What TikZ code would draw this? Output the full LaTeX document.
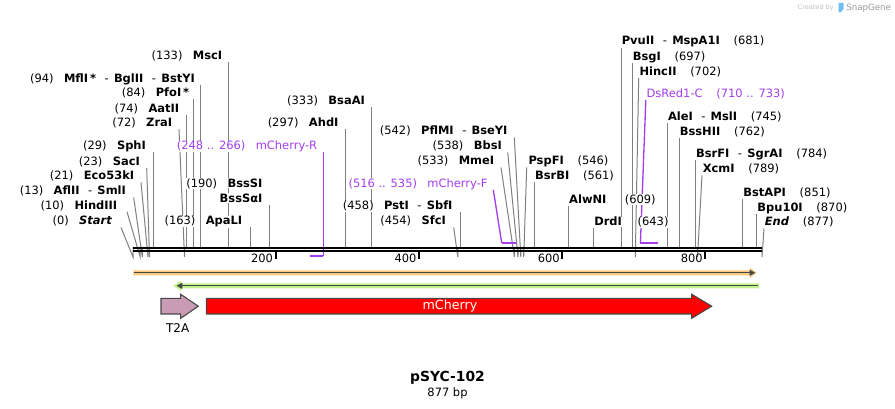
\documentclass[tikz,border=0pt]{standalone}
\usepackage{fontspec}
\setmainfont{DejaVu Sans}
\usepackage{tikz}
\usetikzlibrary{calc,backgrounds}

\definecolor{primcol}{RGB}{163,62,240}
\definecolor{cutgray}{RGB}{128,128,128}
\definecolor{orfill}{RGB}{249,201,128}
\definecolor{grfill}{RGB}{192,243,142}
\definecolor{featdark}{RGB}{70,70,70}
\definecolor{t2acol}{RGB}{201,155,181}
\definecolor{logoblue}{RGB}{110,190,240}

\newcommand{\lblsize}{\fontsize{8.6}{10}\selectfont}
\newcommand{\gapa}{\hspace{7pt}}
\newcommand{\gapb}{\hspace{9.5pt}}
\newcommand{\dash}{\hspace{6pt}-\hspace{3.5pt}}
% white patch behind each word, so lines show through the gaps
\newcommand{\wb}[1]{{\setlength{\fboxsep}{0.4pt}\colorbox{white}{#1}}}
\newcommand{\nm}[1]{\wb{\textbf{#1}}}

\begin{document}
\begin{tikzpicture}[x=0.75pt,y=0.75pt,yscale=-1,xscale=1,
  lbl/.style={inner sep=0pt,font=\lblsize,text height=6.5pt,text depth=1.8pt},
  lft/.style={lbl,anchor=east},
  rgt/.style={lbl,anchor=west},
  prim/.style={lbl,text=primcol},
  cut/.style={draw=cutgray,line width=0.75},
  primline/.style={draw=primcol,line width=1},
  primbar/.style={draw=primcol,line width=1.6},
  feat/.style={draw=featdark,line width=0.8}]
\useasboundingbox (0,0) rectangle (895,409);

% cut sites on the top strand
\coordinate (cStart) at (133,247);
\coordinate (cHindIII) at (140.2,247);
\coordinate (cAflII) at (142.3,247);
\coordinate (cEco) at (148,247);
\coordinate (cSacI) at (149.5,247);
\coordinate (cSphI) at (153.7,247);
\coordinate (cZraI) at (184.5,247);
\coordinate (cAatII) at (186.3,247);
\coordinate (cPfoI) at (193.7,247);
\coordinate (cMflI) at (200.3,247);
\coordinate (cMscI) at (228.3,247);
\coordinate (cApaLI) at (250.3,247);
\coordinate (cBssSI) at (269.3,247);
\coordinate (cAhdI) at (345.7,247);
\coordinate (cBsaAI) at (371,247);
\coordinate (cSfcI) at (457.8,247);
\coordinate (cPstI) at (460.3,247);
\coordinate (cMmeI) at (514.4,247);
\coordinate (cBbsI) at (518,247);
\coordinate (cPflMI) at (520.8,247);
\coordinate (cPspFI) at (523.7,247);
\coordinate (cBsrBI) at (534.3,247);
\coordinate (cAlwNI) at (568.4,247);
\coordinate (cDrdI) at (593.5,247);
\coordinate (cPvuII) at (621,247);
\coordinate (cBsgI) at (632,247);
\coordinate (cHincII) at (635.3,247);
\coordinate (cAleI) at (667.2,247);
\coordinate (cBssHII) at (679,247);
\coordinate (cBsrFI) at (695.3,247);
\coordinate (cXcmI) at (697.5,247);
\coordinate (cBstAPI) at (742.6,247);
\coordinate (cBpu) at (756.6,247);
\coordinate (cEnd) at (762,247);
% primer ends
\coordinate (pR1) at (310.4,255.7);
\coordinate (pR2) at (323.3,255.7);
\coordinate (pF1) at (501.7,243);
\coordinate (pF2) at (515.8,243);
\coordinate (pD1) at (640.4,243.4);
\coordinate (pD2) at (657.5,243.4);

% Text Node
\node[lft] (nStart) at (113,221.7) {\wb{(0)}\gapa\nm{\textit{Start}}};
% Text Node
\node[lft] (nHindIII) at (118,206) {\wb{(10)}\gapa\nm{HindIII}};
% Text Node
\node[lft] (nAflII) at (126.7,191.7) {\wb{(13)}\gapa\nm{AflII}\dash\nm{SmlI}};
% Text Node
\node[lft] (nEco) at (135,176.7) {\wb{(21)}\gapa\nm{Eco53kI}};
% Text Node
\node[lft] (nSacI) at (140.7,162) {\wb{(23)}\gapa\nm{SacI}};
% Text Node
\node[lft] (nSphI) at (146.7,146.7) {\wb{(29)}\gapa\nm{SphI}};
% Text Node
\node[lft] (nZraI) at (173,123.3) {\wb{(72)}\gapa\nm{ZraI}};
% Text Node
\node[lft] (nAatII) at (180,109) {\wb{(74)}\gapa\nm{AatII}};
% Text Node
\node[lft] (nPfoI) at (190,93.3) {\wb{(84)}\gapa\nm{PfoI\,*}};
% Text Node
\node[lft] (nMflI) at (195.7,79.3) {\wb{(94)}\gapa\nm{MflI\,*}\dash\nm{BglII}\dash\nm{BstYI}};
% Text Node
\node[lft] (nMscI) at (223,56.7) {\wb{(133)}\gapa\nm{MscI}};
% Text Node
\node[lft] (nApaLI) at (243,221.7) {\wb{(163)}\gapa\nm{ApaLI}};
% Text Node
\node[lft] (nBssSI) at (263.3,184) {\wb{(190)}\gapa\nm{BssSI}};
% Text Node
\node[lft] (nBssSaI) at (263.3,199) {\nm{BssSαI}};
% Text Node
\node[lft] (nAhdI) at (339.3,123.3) {\wb{(297)}\gapa\nm{AhdI}};
% Text Node
\node[lft] (nBsaAI) at (365.7,101.7) {\wb{(333)}\gapa\nm{BsaAI}};
% Text Node
\node[lft] (nSfcI) at (446.7,221.7) {\wb{(454)}\gapa\nm{SfcI}};
% Text Node
\node[lft] (nPstI) at (453.3,206.7) {\wb{(458)}\gapa\nm{PstI}\dash\nm{SbfI}};
% Text Node
\node[lft] (nMmeI) at (495,161.7) {\wb{(533)}\gapa\nm{MmeI}};
% Text Node
\node[lft] (nBbsI) at (502.7,146.7) {\wb{(538)}\gapa\nm{BbsI}};
% Text Node
\node[lft] (nPflMI) at (508.3,131.7) {\wb{(542)}\gapa\nm{PflMI}\dash\nm{BseYI}};
% Text Node
\node[rgt] (nPspFI) at (527.7,161.7) {\nm{PspFI}\gapb\wb{(546)}};
% Text Node
\node[rgt] (nBsrBI) at (534.3,176.7) {\nm{BsrBI}\gapb\wb{(561)}};
% Text Node
\node[rgt] (nAlwNI) at (568.4,200) {\nm{AlwNI}\hspace{13pt}\wb{(609)}};
% Text Node
\node[rgt] (nDrdI) at (593.5,222.7) {\nm{DrdI}\hspace{11pt}\wb{(643)}};
% Text Node
\node[rgt] (nPvuII) at (621,41.8) {\nm{PvuII}\dash\nm{MspA1I}\gapb\wb{(681)}};
% Text Node
\node[rgt] (nBsgI) at (632,56.9) {\nm{BsgI}\gapb\wb{(697)}};
% Text Node
\node[rgt] (nHincII) at (638.7,72) {\nm{HincII}\gapb\wb{(702)}};
% Text Node
\node[rgt] (nAleI) at (667.2,117.2) {\nm{AleI}\dash\nm{MslI}\gapb\wb{(745)}};
% Text Node
\node[rgt] (nBssHII) at (679,132.2) {\nm{BssHII}\gapb\wb{(762)}};
% Text Node
\node[rgt] (nBsrFI) at (695.3,154.7) {\nm{BsrFI}\dash\nm{SgrAI}\gapb\wb{(784)}};
% Text Node
\node[rgt] (nXcmI) at (702,169.7) {\nm{XcmI}\gapb\wb{(789)}};
% Text Node
\node[rgt] (nBstAPI) at (742.6,193.2) {\nm{BstAPI}\gapb\wb{(851)}};
% Text Node
\node[rgt] (nBpu) at (756.6,208.3) {\nm{Bpu10I}\gapb\wb{(870)}};
% Text Node
\node[rgt] (nEnd) at (764,222.7) {\nm{\textit{End}}\gapb\wb{(877)}};
% Text Node
\node[prim,anchor=east] (nPrR) at (318,146.7) {\wb{(248 .. 266)}\gapa\wb{mCherry-R}};
% Text Node
\node[prim,anchor=east] (nPrF) at (488.3,184) {\wb{(516 .. 535)}\gapa\wb{mCherry-F}};
% Text Node
\node[prim,anchor=west] (nPrD) at (645.8,94.4) {\wb{DsRed1-C}\gapb\wb{(710 .. 733)}};

\begin{pgfonlayer}{background}
%Straight Lines
\draw[cut] ($(nStart.south east)+(8,0)$) -- ([yshift=7.5pt]cStart) -- (cStart);
\draw[cut] ($(nHindIII.south east)+(9,0)$) -- ([yshift=7.5pt]cHindIII) -- (cHindIII);
\draw[cut] ($(nAflII.south east)+(7,0)$) -- ([yshift=7.5pt]cAflII) -- (cAflII);
\draw[cut] ($(nEco.south east)+(6,0)$) -- ([yshift=7.5pt]cEco) -- (cEco);
\draw[cut] ($(nSacI.south east)+(6,0)$) -- ([yshift=7.5pt]cSacI) -- (cSacI);
\draw[cut] (cSphI |- nSphI.south) -- (cSphI);
\draw[cut] ($(nZraI.south east)+(6,0)$) -- ([yshift=7.5pt]cZraI) -- (cZraI);
\draw[cut] (cAatII |- nAatII.south) -- (cAatII);
\draw[cut] (cPfoI |- nPfoI.south) -- (cPfoI);
\draw[cut] (cMflI |- nMflI.south) -- (cMflI);
\draw[cut] (cMscI |- nMscI.south) -- (cMscI);
\draw[cut] (cApaLI |- nApaLI.south) -- (cApaLI);
\draw[cut] (cBssSI |- nBssSaI.south) -- (cBssSI);
\draw[cut] (cAhdI |- nAhdI.south) -- (cAhdI);
\draw[cut] (cBsaAI |- nBsaAI.south) -- (cBsaAI);
\draw[cut] ($(nSfcI.south east)+(7,0)$) -- ([yshift=7.5pt]cSfcI) -- (cSfcI);
\draw[cut] (cPstI |- nPstI.south) -- (cPstI);
\draw[cut] ($(nMmeI.south east)+(6,0)$) -- ([yshift=7.5pt]cMmeI) -- (cMmeI);
\draw[cut] ($(nBbsI.south east)+(5,0)$) -- ([yshift=7.5pt]cBbsI) -- (cBbsI);
\draw[cut] ($(nPflMI.south east)+(6,0)$) -- ([yshift=7.5pt]cPflMI) -- (cPflMI);
\draw[cut] ($(nPspFI.south west)+(-1,0)$) -- ([yshift=7.5pt]cPspFI) -- (cPspFI);
\draw[cut] (cBsrBI |- nBsrBI.south) -- (cBsrBI);
\draw[cut] (cAlwNI |- nAlwNI.south) -- (cAlwNI);
\draw[cut] (cDrdI |- nDrdI.south) -- (cDrdI);
\draw[cut] (cPvuII |- nPvuII.south) -- (cPvuII);
\draw[cut] (cBsgI |- nBsgI.south) -- (cBsgI);
\draw[cut] (nHincII.south west) -- ([yshift=7.5pt]cHincII) -- (cHincII);
\draw[cut] (cAleI |- nAleI.south) -- (cAleI);
\draw[cut] (cBssHII |- nBssHII.south) -- (cBssHII);
\draw[cut] (cBsrFI |- nBsrFI.south) -- (cBsrFI);
\draw[cut] (nXcmI.south west) -- ([yshift=7.5pt]cXcmI) -- (cXcmI);
\draw[cut] (cBstAPI |- nBstAPI.south) -- (cBstAPI);
\draw[cut] (cBpu |- nBpu.south) -- (cBpu);
\draw[cut] (nEnd.south west) -- ([yshift=7.5pt]cEnd) -- (cEnd);

%Primers
\draw[primline] (pR2 |- nPrR.south) -- (pR2);
\draw[primbar] (pR2) -- (pR1);
\draw[primline] ($(nPrF.south east)+(5,0)$) -- (pF1);
\draw[primbar] (pF1) -- (pF2);
\draw[primline] (nPrD.south west) -- (pD1);
\draw[primbar] (pD1) -- (pD2);
\end{pgfonlayer}

%Shape: Sequence (two strands)
\draw[line width=1.7pt] (133,247.8) -- (762,247.8);
\draw[line width=1.7pt] (133,251.2) -- (762,251.2);

%Ruler ticks
\draw[line width=1.5] (275.7,252.5) -- (275.7,259.5);
\draw[line width=1.5] (419.2,252.5) -- (419.2,259.5);
\draw[line width=1.5] (562.3,252.5) -- (562.3,259.5);
\draw[line width=1.5] (705.4,252.5) -- (705.4,259.5);
% Text Node
\node[lft] (t200) at (273.3,259.5) {200};
% Text Node
\node[lft] (t400) at (416.8,259.5) {400};
% Text Node
\node[lft] (t600) at (559.9,259.5) {600};
% Text Node
\node[lft] (t800) at (703,259.5) {800};

%Shape: orange feature (forward)
\fill[orfill] (133.3,270.3) -- (750,270.3) -- (750,267.7) -- (756.7,272.8) -- (750,277.9) -- (750,275.3) -- (133.3,275.3) -- cycle;
\draw[featdark,line width=1] (134,272.8) -- (750,272.8);
\fill[featdark] (749.5,269.6) -- (755.2,272.8) -- (749.5,276) -- cycle;
%Shape: green feature (reverse)
\fill[grfill] (759,283.3) -- (181,283.3) -- (181,280.7) -- (173.3,285.8) -- (181,290.9) -- (181,288.3) -- (759,288.3) -- cycle;
\draw[featdark,line width=1] (757.5,285.8) -- (181,285.8);
\fill[featdark] (182.3,282.6) -- (176.7,285.8) -- (182.3,289) -- cycle;

%Shape: T2A arrow
\draw[feat,fill=t2acol] (161,298.3) -- (180.7,298.3) -- (180.7,294.3) -- (198.3,306.2) -- (180.7,318.3) -- (180.7,314) -- (161,314) -- cycle;
% Text Node
\node[inner sep=0pt,font=\fontsize{9}{10}\selectfont] (nT2A) at (177.7,327.7) {T2A};
%Shape: mCherry arrow
\draw[feat,fill=red] (206.3,298.3) -- (691.7,298.3) -- (691.7,294.3) -- (711.7,306.2) -- (691.7,318.3) -- (691.7,314) -- (206.3,314) -- cycle;
% Text Node
\node[inner sep=0pt,font=\fontsize{9.5}{10}\selectfont,text=white] (nmCherry) at (450,306.2) {mCherry};

% Text Node
\node[inner sep=0pt,font=\fontsize{10.4}{12}\selectfont\bfseries] (nTitle) at (447.5,378) {pSYC-102};
% Text Node
\node[inner sep=0pt,font=\lblsize] (nLength) at (447.5,393) {877 bp};

% Text Node
\node[inner sep=0pt,anchor=east,font=\fontsize{4.9}{6}\selectfont,text=black!25] (nCreated) at (834,7.7) {Created by};
\fill[logoblue] (838.5,3) -- (843.5,3) -- (843.5,9) -- (840.5,12.5) -- (838.5,12.5) -- cycle;
% Text Node
\node[inner sep=0pt,anchor=west,font=\fontsize{6.5}{8}\selectfont,text=black!40] (nSnapGene) at (846,7.7) {SnapGene};
\end{tikzpicture}
\end{document}
